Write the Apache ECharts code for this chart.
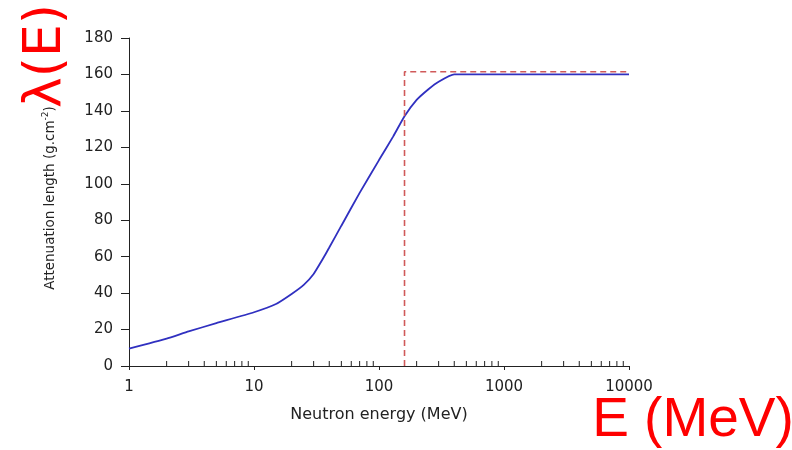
<!DOCTYPE html>
<html>
<head>
  <meta charset="utf-8">
  <title>Attenuation length</title>
  <script src="https://cdn.jsdelivr.net/npm/echarts@6/dist/echarts.min.js"></script>
</head>
<body style="margin:0">
  <div id="main" style="width:792px;height:450px;"></div>
  <script type="text/javascript">
    // neutron energy (MeV) and attenuation length (g/cm2)
    var energy = [1, 2, 3, 5, 10, 15, 20, 25, 30, 35, 40, 50, 70, 100, 130, 160, 200, 250, 300, 400, 1000, 10000];
    var lambda = [9.5, 15, 19, 23.5, 29.5, 34, 39.5, 44.5, 50.5, 58, 65, 77, 95, 113, 126, 137, 146, 152, 156, 160, 160, 160];

    // red dashed step (threshold)
    var stepX = [160, 160, 10000];
    var stepY = [0, 161.5, 161.5];

    // minor tick values on the log axis
    var minorTicks = [];
    [1, 10, 100, 1000].forEach(function (d) {
      for (var k = 2; k <= 9; k++) minorTicks.push(k * d);
    });

    var myChart = echarts.init(document.getElementById('main'));

    var option = {
      animation: false,
      textStyle: { fontFamily: 'DejaVu Sans' },
      grid: { left: 129, right: 163, top: 38, bottom: 84 },
      xAxis: {
        type: 'log',
        logBase: 10,
        min: 1,
        max: 10000,
        name: 'Neutron energy (MeV)',
        nameLocation: 'middle',
        nameGap: 41,
        nameTextStyle: { fontSize: 16, color: '#222' },
        axisLine: { lineStyle: { color: '#222', width: 1 } },
        axisTick: { length: 4, lineStyle: { color: '#222' } },
        axisLabel: {
          fontSize: 15,
          color: '#222',
          margin: 14,
          formatter: function (v) { return String(Math.round(v)); }
        },
        splitLine: { show: false }
      },
      yAxis: {
        type: 'value',
        min: 0,
        max: 180,
        interval: 20,
        name: 'Attenuation length (g.cm{sup|-2})',
        nameLocation: 'middle',
        nameGap: 69,
        nameTextStyle: {
          fontSize: 13.5,
          color: '#222',
          padding: [0, 0, 0, 8],
          rich: { sup: { fontSize: 9, color: '#222', padding: [0, 0, 10, 0] } }
        },
        axisLine: { show: true, lineStyle: { color: '#222', width: 1 } },
        axisTick: { show: true, length: 8, lineStyle: { color: '#222' } },
        axisLabel: { fontSize: 15, color: '#222', margin: 16 },
        splitLine: { show: false }
      },
      series: [
        {
          type: 'line',
          data: energy.map(function (e, i) { return [e, lambda[i]]; }),
          smooth: 0.15,
          showSymbol: false,
          lineStyle: { color: '#3030c0', width: 1.8 }
        },
        {
          type: 'line',
          data: stepX.map(function (e, i) { return [e, stepY[i]]; }),
          showSymbol: false,
          lineStyle: { color: '#d05a5a', width: 1.6, type: [6, 4] }
        },
        {
          type: 'custom',
          silent: true,
          clip: false,
          data: minorTicks.map(function (v) { return [v, 0]; }),
          renderItem: function (params, api) {
            var p = api.coord([api.value(0), 0]);
            return {
              type: 'line',
              shape: { x1: p[0], y1: p[1], x2: p[0], y2: p[1] - 5 },
              style: { stroke: '#222', lineWidth: 1 }
            };
          }
        }
      ],
      graphic: [
        {
          type: 'text',
          x: 46,
          y: 56,
          rotation: Math.PI / 2,
          style: {
            text: 'λ(E)',
            fontSize: 52,
            fontFamily: 'DejaVu Sans',
            fill: '#ff0000',
            align: 'center',
            verticalAlign: 'middle'
          }
        },
        {
          type: 'text',
          x: 693,
          y: 421,
          style: {
            text: 'E (MeV)',
            fontSize: 55,
            fontFamily: 'Liberation Sans',
            fill: '#ff0000',
            align: 'center',
            verticalAlign: 'middle'
          }
        }
      ]
    };

    myChart.setOption(option);
  </script>
</body>
</html>
